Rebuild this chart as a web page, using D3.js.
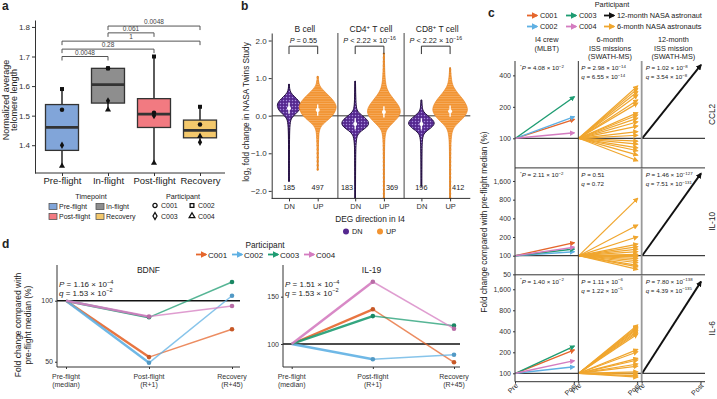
<!DOCTYPE html>
<html><head><meta charset="utf-8">
<script src="https://cdn.jsdelivr.net/npm/d3@7/dist/d3.min.js"></script>
<style>html,body{margin:0;padding:0;background:#fff;overflow:hidden}</style>
</head><body>
<script>
// ================= DATA =================
// Panel a – telomere length
const aTimepoints = ["Pre-flight","In-flight","Post-flight","Recovery"];
const aParticipants = ["C001","C002","C003","C004"];
const aPreflight  = [1.52,1.59,1.40,1.33];
const aInflight   = [1.66,1.66,1.55,1.52];
const aPostflight = [1.51,1.70,1.50,1.34];
const aRecovery   = [1.47,1.53,1.41,1.43];
const aYTicks = [1.4,1.5,1.6,1.7,1.8];
const aCompareFrom = ["Pre-flight","Pre-flight","Pre-flight","In-flight","In-flight"];
const aCompareTo   = ["In-flight","Post-flight","Recovery","Post-flight","Recovery"];
const aCompareP    = ["0.0048","0.28","1","0.061","0.0048"];
const aCompareY    = [1.70,1.725,1.752,1.78,1.803];

// Panel b – violins (log2FC level, relative density)
const bCellTypes = ["B cell","CD4+ T cell","CD8+ T cell"];
const bDirections = ["DN","UP"];
const bCountsDN = [185,183,196];
const bCountsUP = [497,369,412];
const bPOp = ["=","<","<"];
const bPMant = ["0.55","2.22","2.22"];
const bPExp = [null,"−16","−16"];
const bYTicks = [-2,-1,0,1,2];
const bMedianDN = [0.2,-0.22,-0.22];
const bMedianUP = [0.15,0.1,0.12];
const bPeakDN = [0.65,0.74,0.74];
const bPeakUP = [1.0,0.9,0.95];
const bViolinBcellDN = [[-1.75,0.02],[-1.2,0.03],[-0.6,0.04],[-0.2,0.07],[-0.05,0.2],[0.05,0.55],[0.15,0.85],[0.28,1.0],[0.4,0.8],[0.52,0.4],[0.62,0.12],[0.72,0.05],[0.84,0.02]];
const bViolinBcellUP = [[-1.45,0.02],[-1.0,0.03],[-0.5,0.05],[-0.3,0.12],[-0.15,0.45],[0,0.8],[0.15,0.95],[0.25,1.0],[0.4,0.85],[0.55,0.55],[0.7,0.25],[0.8,0.1],[0.9,0.05],[1.05,0.02]];
const bViolinCD4DN = [[-2.2,0.02],[-1.2,0.03],[-0.7,0.05],[-0.5,0.15],[-0.4,0.45],[-0.3,0.85],[-0.2,1.0],[-0.1,0.85],[0,0.5],[0.1,0.2],[0.2,0.07],[0.5,0.04],[0.92,0.02]];
const bViolinCD4UP = [[-2.2,0.02],[-1.0,0.03],[-0.5,0.06],[-0.35,0.18],[-0.2,0.5],[-0.05,0.85],[0.1,1.0],[0.25,0.9],[0.4,0.65],[0.55,0.38],[0.7,0.18],[0.9,0.08],[1.3,0.04],[1.67,0.02]];
const bViolinCD8DN = [[-1.88,0.02],[-1.0,0.03],[-0.6,0.06],[-0.45,0.2],[-0.35,0.6],[-0.22,1.0],[-0.1,0.8],[0,0.45],[0.1,0.15],[0.2,0.06],[0.42,0.02]];
const bViolinCD8UP = [[-2.2,0.02],[-1.0,0.03],[-0.5,0.06],[-0.3,0.2],[-0.15,0.55],[0,0.85],[0.15,1.0],[0.3,0.9],[0.45,0.7],[0.6,0.42],[0.75,0.2],[0.9,0.08],[1.28,0.02]];

// Panel c – fold change (% of pre-flight median)
const cGenes = ["CCL2","IL-10","IL-6"];
const cStudies = ["I4 crew|(MLBT)","6-month|ISS missions|(SWATH-MS)","12-month|ISS mission|(SWATH-MS)"];
const cI4Participants = ["C001","C002","C003","C004"];
const cI4CCL2 = [152,161,250,113];
const cI4IL10 = [162,116,128,137];
const cI4IL6  = [216,124,246,152];
const cSixMonthCCL2 = [317,299,280,260,233,217,176,167,156,144,131,116,107,94,88,81,76,69,61];
const cSixMonthIL10 = [840,312,202,154,140,128,116,105,100,100,96,90,83,77,70,66,60];
const cSixMonthIL6  = [492,470,450,430,408,388,366,220,204,164,155,136,127,105,98,92,88];
const cTwelveMonth  = [504,2120,2060];
const cTicks = [[100,200,400],[50,100,200,400,800,1600],[100,200,400,800,1600]];
const cPI4  = [["4.08","−2"],["2.11","−2"],["1.40","−2"]];
const cP6   = [["2.98","−14"],["0.51",null],["1.11","−6"]];
const cQ6   = [["6.55","−14"],["0.72",null],["1.22","−5"]];
const cP12  = [["1.02","−8"],["1.46","−127"],["7.80","−138"]];
const cQ12  = [["3.54","−8"],["7.51","−131"],["4.39","−135"]];

// Panel d – BDNF / IL-19
const dGenes = ["BDNF","IL-19"];
const dTimepoints = ["Pre-flight|(median)","Post-flight|(R+1)","Recovery|(R+45)"];
const dParticipants = ["C001","C002","C003","C004"];
const dBDNF = [[100,52.7,72.3],[100,49.4,105.8],[100,82.8,123.7],[100,83.5,94.2]];
const dIL19 = [[100,134.6,85.5],[100,87.7,91.2],[100,127,117],[100,170.5,114]];
const dP = [["1.16","−4"],["1.51","−4"]];
const dQ = [["1.53","−2"],["1.53","−2"]];
const dTicks = [[50,100],[100,150]];

// ================= STYLE =================
const FONT = '"Liberation Sans", Arial, Helvetica, sans-serif';
const TXT = "#222";
const partColors = ["#e5662c","#5fb0e3","#1e9c72","#d47cc0"];
const col6m = "#f0a62e", col12m = "#111";
const aFill = ["#81a5d9","#8e8e8e","#f27a81","#f3c86c"];
const purple = "#55288f", orange = "#f29432";

const svg = d3.select("body").append("svg").attr("width",717).attr("height",399)
  .style("font-family",FONT).style("background","#fff");
const defs = svg.append("defs");

function rich(parent, parts, size, opt={}) {
  const t = parent.append("text").attr("font-size",size).attr("fill",opt.fill||TXT)
    .attr("text-anchor",opt.anchor||"start");
  if (opt.transform) t.attr("transform",opt.transform); else t.attr("x",opt.x).attr("y",opt.y);
  let shift = 0;
  parts.forEach(p => {
    const target = p.sup ? -size*0.38 : p.sub ? size*0.25 : 0;
    const s = t.append("tspan").text(p.t);
    if (target - shift !== 0) s.attr("dy", target - shift);
    shift = target;
    if (p.sup || p.sub) s.attr("font-size", size*0.7);
    if (p.i) s.attr("font-style","italic");
  });
  return t;
}
function sciParts(label, op, mant, exp, star) {
  const parts = [];
  if (star) parts.push({t:"*",sup:true});
  parts.push({t:label,i:true});
  parts.push({t:` ${op} ${mant}` + (exp ? " × 10" : "")});
  if (exp) parts.push({t:exp,sup:true});
  return parts;
}
function txt(parent,x,y,s,size,anchor,extra){
  const t = parent.append("text").attr("x",x).attr("y",y).attr("font-size",size).attr("fill",TXT)
    .attr("text-anchor",anchor||"start").text(s);
  if (extra) t.attr("font-weight",extra);
  return t;
}
function styleAxis(g, fs) {
  g.attr("font-family",FONT).attr("font-size",fs);
  g.selectAll("path.domain").attr("stroke","#333").attr("stroke-width",1);
  g.selectAll(".tick line").attr("stroke","#333");
  g.selectAll(".tick text").attr("fill","#333");
}
function marker(id,color,size){
  defs.append("marker").attr("id",id).attr("viewBox","0 0 10 10").attr("refX",8).attr("refY",5)
    .attr("markerWidth",size).attr("markerHeight",size).attr("markerUnits","userSpaceOnUse")
    .attr("orient","auto").append("path").attr("d","M0,0L10,5L0,10z").attr("fill",color);
}
partColors.forEach((c,i)=>marker("mk"+i,c,5.5));
marker("mk6m",col6m,5.5); marker("mk12",col12m,6);
partColors.forEach((c,i)=>marker("lg"+i,c,6.5));
marker("lg6m",col6m,6.5); marker("lg12",col12m,6.5);

// panel letters
txt(svg,2,10,"a",12,"start","bold");
txt(svg,241,10,"b",12,"start","bold");
txt(svg,488,17,"c",12,"start","bold");
txt(svg,2,248,"d",12,"start","bold");

// ================= PANEL A =================
const gA = svg.append("g");
const xA = d3.scalePoint().domain(aTimepoints).range([62,200]);
const yA = d3.scaleLinear().domain([1.306,1.8235]).range([173,20]);
const aSeries = [aPreflight,aInflight,aPostflight,aRecovery];
const aSymbols = [d3.symbolCircle,d3.symbolSquare,d3.symbolDiamond,d3.symbolTriangle];
aSeries.forEach((vals,i)=>{
  const s = vals.slice().sort(d3.ascending);
  const q1=d3.quantile(s,0.25), med=d3.quantile(s,0.5), q3=d3.quantile(s,0.75), iqr=q3-q1;
  const lo=d3.min(s.filter(v=>v>=q1-1.5*iqr)), hi=d3.max(s.filter(v=>v<=q3+1.5*iqr+1e-9));
  const cx=xA(aTimepoints[i]), bw=33;
  gA.append("line").attr("x1",cx).attr("x2",cx).attr("y1",yA(lo)).attr("y2",yA(hi))
    .attr("stroke","#333").attr("stroke-width",1.6);
  gA.append("rect").attr("x",cx-bw/2).attr("width",bw).attr("y",yA(q3)).attr("height",yA(q1)-yA(q3))
    .attr("fill",aFill[i]).attr("stroke","#333").attr("stroke-width",1.3);
  gA.append("line").attr("x1",cx-bw/2).attr("x2",cx+bw/2).attr("y1",yA(med)).attr("y2",yA(med))
    .attr("stroke","#333").attr("stroke-width",2.8);
  vals.forEach((v,j)=>{
    gA.append("path").attr("d",d3.symbol().type(aSymbols[j]).size(16)())
      .attr("transform",`translate(${cx},${yA(v)})`).attr("fill","#111");
  });
});
aCompareFrom.forEach((f,i)=>{
  const x1=xA(f), x2=xA(aCompareTo[i]), y=yA(aCompareY[i]);
  gA.append("path").attr("d",`M${x1},${y+4}V${y}H${x2}V${y+4}`).attr("fill","none")
    .attr("stroke","#555").attr("stroke-width",1);
  txt(gA,(x1+x2)/2,y-2,aCompareP[i],6.5,"middle").attr("fill","#444");
});
const aY = gA.append("g").attr("transform","translate(35,0)")
  .call(d3.axisLeft(yA).tickValues(aYTicks).tickSize(3).tickSizeOuter(0).tickPadding(2).tickFormat(d3.format(".1f")));
styleAxis(aY,8);
gA.append("line").attr("x1",35).attr("x2",225).attr("y1",173).attr("y2",173).attr("stroke","#333");
const aX = gA.append("g").attr("transform","translate(0,173)")
  .call(d3.axisBottom(xA).tickSize(3).tickPadding(1));
aX.select("path.domain").remove();
styleAxis(aX,9.5); aX.selectAll(".tick text").attr("fill",TXT);
txt(gA,0,0,"Normalized average",9,"middle").attr("transform","translate(8.5,100) rotate(-90)");
txt(gA,0,0,"telomere length",9,"middle").attr("transform","translate(17,100) rotate(-90)");
// legend a
txt(gA,91,199,"Timepoint",7.2,"middle");
txt(gA,183,199,"Participant",7.2,"middle");
const aLegPos = [[49,203.5],[96,203.5],[49,213.5],[96,213.5]];
aTimepoints.forEach((t,i)=>{
  const [lx,ly]=aLegPos[i];
  gA.append("rect").attr("x",lx).attr("y",ly).attr("width",8).attr("height",6)
    .attr("fill",aFill[i]).attr("stroke","#555").attr("stroke-width",0.8);
  txt(gA,lx+10,ly+5.7,t,7);
});
const aPartPos = [[155,205.5],[192,205.5],[155,216],[192,216]];
aParticipants.forEach((p,i)=>{
  const [lx,ly]=aPartPos[i];
  gA.append("path").attr("d",d3.symbol().type(aSymbols[i]).size(14)())
    .attr("transform",`translate(${lx},${ly})`).attr("fill","#fff").attr("stroke","#111").attr("stroke-width",1.3);
  txt(gA,lx+6,ly+2.6,p,7);
});

// ================= PANEL B =================
const gB = svg.append("g");
const facetB = d3.scaleBand().domain(bCellTypes).range([271.7,470.3]);
const dirB = d3.scalePoint().domain(bDirections).range([17.3,46]);
const yB = d3.scaleLinear().domain([-2.2,2.2]).range([198.4,33]);
const wB = d3.scaleLinear().domain([0,1]).range([0,19]);
const violinsDN = [bViolinBcellDN,bViolinCD4DN,bViolinCD8DN];
const violinsUP = [bViolinBcellUP,bViolinCD4UP,bViolinCD8UP];

// patterns
const pDots = defs.append("pattern").attr("id","dots").attr("patternUnits","userSpaceOnUse").attr("width",3).attr("height",3);
pDots.append("rect").attr("width",3).attr("height",3).attr("fill",purple);
pDots.append("circle").attr("cx",1.5).attr("cy",1.5).attr("r",0.75).attr("fill","#a88de0");
const pStr = defs.append("pattern").attr("id","stripes").attr("patternUnits","userSpaceOnUse").attr("width",4).attr("height",2.4);
pStr.append("rect").attr("width",4).attr("height",2.4).attr("fill",orange);
pStr.append("line").attr("x1",0).attr("x2",4).attr("y1",0.3).attr("y2",0.3).attr("stroke","#fff").attr("stroke-opacity",0.4).attr("stroke-width",0.6);

bCellTypes.forEach((ct,k)=>{
  const left = facetB(ct), right = left + facetB.bandwidth();
  const gf = gB.append("g");
  const clipId = "clipB"+k;
  defs.append("clipPath").attr("id",clipId).append("rect").attr("x",left).attr("y",0)
    .attr("width", k===2 ? 59 : facetB.bandwidth()).attr("height",399);
  // zero line
  gf.append("line").attr("x1",left).attr("x2",right).attr("y1",yB(0)).attr("y2",yB(0))
    .attr("stroke","#777").attr("stroke-width",1.6);
  // violins
  [["DN",violinsDN[k],bPeakDN[k],bMedianDN[k]],["UP",violinsUP[k],bPeakUP[k],bMedianUP[k]]].forEach(([dir,prof,peak,med])=>{
    const cx = left + dirB(dir);
    const yMin = prof[0][0], yMax = prof[prof.length-1][0];
    const area = d3.area().curve(d3.curveBasis).y(d=>yB(d[0]))
      .x0(d=>cx - wB(d[1]*peak)).x1(d=>cx + wB(d[1]*peak));
    if (dir==="DN") {
      gf.append("line").attr("x1",cx).attr("x2",cx).attr("y1",yB(yMin)).attr("y2",yB(yMax))
        .attr("stroke","#2a1650").attr("stroke-width",1.6);
      gf.append("path").attr("d",area(prof)).attr("fill","url(#dots)").attr("stroke","#24103f").attr("stroke-width",1);
    } else {
      gf.append("line").attr("x1",cx).attr("x2",cx).attr("y1",yB(yMin)).attr("y2",yB(yMax))
        .attr("stroke","#3d2a18").attr("stroke-width",1);
      gf.append("line").attr("x1",cx).attr("x2",cx).attr("y1",yB(yMin)).attr("y2",yB(yMax))
        .attr("stroke",orange).attr("stroke-width",2.2).attr("stroke-dasharray","1.6,2.4");
      gf.append("path").attr("d",area(prof)).attr("fill","url(#stripes)").attr("stroke","#e8801a").attr("stroke-width",0.6);
    }
    gf.append("line").attr("x1",cx).attr("x2",cx).attr("y1",yB(med-0.15)).attr("y2",yB(med+0.15))
      .attr("stroke","#fff").attr("stroke-width",1.4);
    gf.append("circle").attr("cx",cx).attr("cy",yB(med)).attr("r",2).attr("fill","#fff");
  });
  // counts
  const dnX = left + dirB("DN"), upX = left + dirB("UP");
  const dnLong = violinsDN[k][0][0] < -1.95, upLong = violinsUP[k][0][0] < -1.95;
  txt(gf, dnLong ? dnX-2 : dnX, 190, bCountsDN[k], 7.3, dnLong ? "end" : "middle");
  txt(gf, upLong ? upX+2 : upX, 190, bCountsUP[k], 7.3, upLong ? "start" : "middle");
  // bracket + p
  const gp = gf.append("g").attr("clip-path",`url(#${clipId})`);
  gp.append("path").attr("d",`M${dnX},${yB(1.64)}V${yB(1.85)}H${upX}V${yB(1.64)}`)
    .attr("fill","none").attr("stroke","#333").attr("stroke-width",1);
  rich(gp, sciParts("P",bPOp[k],bPMant[k],bPExp[k]), 7.3, {x:(dnX+upX)/2, y:yB(1.85)-3, anchor:"middle"});
  // facet title
  const parts = ct.includes("+") ? [{t:ct.split("+")[0]},{t:"+",sup:true},{t:ct.split("+")[1]}] : [{t:ct}];
  rich(gf, parts, 8.5, {x:(left+right)/2, y:32, anchor:"middle"});
  // facet left border
  if (k>0) gf.append("line").attr("x1",left).attr("x2",left).attr("y1",33).attr("y2",198.4).attr("stroke","#444").attr("stroke-width",1);
  // x axis ticks
  const gx = gf.append("g").attr("transform",`translate(${left},198.4)`)
    .call(d3.axisBottom(d3.scalePoint().domain(bDirections).range([dirB("DN"),dirB("UP")])).tickSize(3).tickPadding(2));
  gx.select("path.domain").remove();
  styleAxis(gx,7.5);
});
gB.append("line").attr("x1",271.7).attr("x2",470.3).attr("y1",198.4).attr("y2",198.4).attr("stroke","#333");
const bY = gB.append("g").attr("transform","translate(271.7,0)")
  .call(d3.axisLeft(yB).tickValues(bYTicks).tickSize(3).tickSizeOuter(0).tickPadding(2));
styleAxis(bY,8);
rich(gB,[{t:"log"},{t:"2",sub:true},{t:" fold change in NASA Twins Study"}],8.3,{transform:"translate(249,112) rotate(-90)",anchor:"middle"});
txt(gB,370,222,"DEG direction in I4",8.3,"middle");
gB.append("circle").attr("cx",346).attr("cy",231.5).attr("r",3).attr("fill",purple);
txt(gB,352,234.3,"DN",7.3);
gB.append("circle").attr("cx",380).attr("cy",231.5).attr("r",3).attr("fill",orange);
txt(gB,386,234.3,"UP",7.3);

// ================= PANEL C =================
const gC = svg.append("g");
const cX = d3.scaleBand().domain(cStudies).range([515,705]);
const cRowTop = [61,167.9,274.8], cRowBottom = [167.9,274.8,381.7];
const cDomains = [[52.1,549],[49.2,2600],[75.8,2580]];
const cI4 = [cI4CCL2,cI4IL10,cI4IL6];
const cSix = [cSixMonthCCL2,cSixMonthIL10,cSixMonthIL6];
cGenes.forEach((gene,r)=>{
  const y = d3.scaleLog().domain(cDomains[r]).range([cRowBottom[r],cRowTop[r]]);
  cStudies.forEach((study,c)=>{
    const left = cX(study), right = left + cX.bandwidth();
    const x = d3.scalePoint().domain(["Pre","Post"]).range([left+0.5,right-4]);
    gC.append("line").attr("x1",left).attr("x2",right).attr("y1",y(100)).attr("y2",y(100))
      .attr("stroke","#111").attr("stroke-width",1);
    const arrow = (v,color,mk,w)=>gC.append("line").attr("x1",x("Pre")).attr("y1",y(100))
      .attr("x2",x("Post")).attr("y2",y(v)).attr("stroke",color).attr("stroke-width",w)
      .attr("marker-end",`url(#${mk})`);
    if (c===0) {
      cI4[r].forEach((v,i)=>arrow(v,partColors[i],"mk"+i,1.4));
      rich(gC, sciParts("P","=",cPI4[r][0],cPI4[r][1],true), 6.2, {x:left+5, y:cRowTop[r]+9});
    } else if (c===1) {
      cSix[r].forEach(v=>arrow(v,col6m,"mk6m",1.2));
      rich(gC, sciParts("P","=",cP6[r][0],cP6[r][1]), 6.2, {x:left+3, y:cRowTop[r]+9});
      rich(gC, sciParts("q","=",cQ6[r][0],cQ6[r][1]), 6.2, {x:left+3, y:cRowTop[r]+18});
    } else {
      arrow(cTwelveMonth[r],col12m,"mk12",1.9);
      rich(gC, sciParts("P","=",cP12[r][0],cP12[r][1]), 6.2, {x:left+4, y:cRowTop[r]+9});
      rich(gC, sciParts("q","=",cQ12[r][0],cQ12[r][1]), 6.2, {x:left+4, y:cRowTop[r]+18});
    }
    gC.append("line").attr("x1",left).attr("x2",left).attr("y1",cRowTop[r]).attr("y2",cRowBottom[r])
      .attr("stroke", c===2 ? "#999" : "#333").attr("stroke-width", c===2 ? 1.8 : 1);
    if (r===2) {
      ["Pre","Post"].forEach(lbl=>{
        txt(gC,0,0,lbl,7,"end").attr("transform",`translate(${x(lbl)+3},${386}) rotate(-45)`);
        gC.append("line").attr("x1",x(lbl)).attr("x2",x(lbl)).attr("y1",381.7).attr("y2",383.7).attr("stroke","#333");
      });
    }
  });
  gC.append("line").attr("x1",515).attr("x2",705).attr("y1",cRowBottom[r]).attr("y2",cRowBottom[r]).attr("stroke","#333");
  const ga = gC.append("g").attr("transform","translate(515,0)")
    .call(d3.axisLeft(y).tickValues(cTicks[r]).tickSize(2).tickPadding(2).tickFormat(d3.format(",")));
  ga.select("path.domain").remove();
  styleAxis(ga,7);
  txt(gC,0,0,gene,8.3,"middle").attr("transform",`translate(715,${(cRowTop[r]+cRowBottom[r])/2}) rotate(-90)`);
});
cStudies.forEach(study=>{
  const cx = cX(study)+cX.bandwidth()/2;
  study.split("|").forEach((line,i)=>txt(gC,cx,42+i*8.7,line,7.3,"middle"));
});
txt(gC,0,0,"Fold change compared with pre-flight median (%)",8.3,"middle").attr("transform","translate(487,222) rotate(-90)");
// legend c
txt(gC,612,7,"Participant",7.3,"middle");
const cLegItems = [["C001","lg0",partColors[0],527,18],["C003","lg2",partColors[2],566,18],["12-month NASA astronaut","lg12",col12m,604,18],
                   ["C002","lg1",partColors[1],527,29],["C004","lg3",partColors[3],566,29],["6-month NASA astronauts","lg6m",col6m,604,29]];
cLegItems.forEach(([lab,mk,color,lx,ly])=>{
  gC.append("line").attr("x1",lx).attr("x2",lx+10).attr("y1",ly-2.5).attr("y2",ly-2.5)
    .attr("stroke",color).attr("stroke-width",1.8).attr("marker-end",`url(#${mk})`);
  txt(gC,lx+13,ly,lab,7.3);
});

// ================= PANEL D =================
const gD = svg.append("g");
const dLeft = [57,283], dRight = [240,460], dXRange = [[66,232],[291.7,454]];
const dDomains = [[47.1,150],[82.1,196.8]];
const dValues = [dBDNF,dIL19];
dGenes.forEach((gene,k)=>{
  const x = d3.scalePoint().domain(dTimepoints).range(dXRange[k]);
  const y = d3.scaleLog().domain(dDomains[k]).range([367,265]);
  gD.append("line").attr("x1",dLeft[k]).attr("x2",dRight[k]).attr("y1",y(100)).attr("y2",y(100))
    .attr("stroke","#111").attr("stroke-width",1.6);
  dValues[k].forEach((vals,i)=>{
    const c = partColors[i];
    gD.append("line").attr("x1",x(dTimepoints[0])).attr("y1",y(vals[0])).attr("x2",x(dTimepoints[1])).attr("y2",y(vals[1]))
      .attr("stroke",c).attr("stroke-width",2.4).attr("stroke-opacity",0.9);
    gD.append("line").attr("x1",x(dTimepoints[1])).attr("y1",y(vals[1])).attr("x2",x(dTimepoints[2])).attr("y2",y(vals[2]))
      .attr("stroke",c).attr("stroke-width",1.5).attr("stroke-opacity",0.75);
    [1,2].forEach(t=>gD.append("circle").attr("cx",x(dTimepoints[t])).attr("cy",y(vals[t])).attr("r",2.3)
      .attr("fill",d3.color(c).darker(0.4)));
  });
  gD.append("line").attr("x1",dLeft[k]).attr("x2",dLeft[k]).attr("y1",265).attr("y2",367).attr("stroke","#333");
  gD.append("line").attr("x1",dLeft[k]).attr("x2",dRight[k]).attr("y1",367).attr("y2",367).attr("stroke","#333");
  const ga = gD.append("g").attr("transform",`translate(${dLeft[k]},0)`)
    .call(d3.axisLeft(y).tickValues(dTicks[k]).tickSize(2).tickPadding(2).tickFormat(d3.format("d")));
  ga.select("path.domain").remove(); styleAxis(ga,7);
  const gx = gD.append("g").attr("transform","translate(0,367)")
    .call(d3.axisBottom(x).tickSize(2).tickFormat(""));
  gx.select("path.domain").remove(); styleAxis(gx,7);
  dTimepoints.forEach(t=>t.split("|").forEach((line,i)=>txt(gD,x(t),378.5+i*8.5,line,7,"middle").attr("fill","#333")));
  txt(gD,(dLeft[k]+dRight[k])/2,273,gene,8.5,"middle");
  rich(gD, sciParts("P","=",dP[k][0],dP[k][1]), 8, {x:dLeft[k]+2, y:287});
  rich(gD, sciParts("q","=",dQ[k][0],dQ[k][1]), 8, {x:dLeft[k]+2, y:295.5});
});
txt(gD,0,0,"Fold change compared with",8.5,"middle").attr("transform","translate(21,325) rotate(-90)");
txt(gD,0,0,"pre-flight median (%)",8.5,"middle").attr("transform","translate(30.5,325) rotate(-90)");
txt(gD,265,248,"Participant",8.3,"middle");
const dLegX = [196,232,268,304];
dParticipants.forEach((p,i)=>{
  gD.append("line").attr("x1",dLegX[i]).attr("x2",dLegX[i]+10).attr("y1",254.5).attr("y2",254.5)
    .attr("stroke",partColors[i]).attr("stroke-width",1.8).attr("marker-end",`url(#lg${i})`);
  txt(gD,dLegX[i]+12,257.5,p,8);
});
</script></body></html>
